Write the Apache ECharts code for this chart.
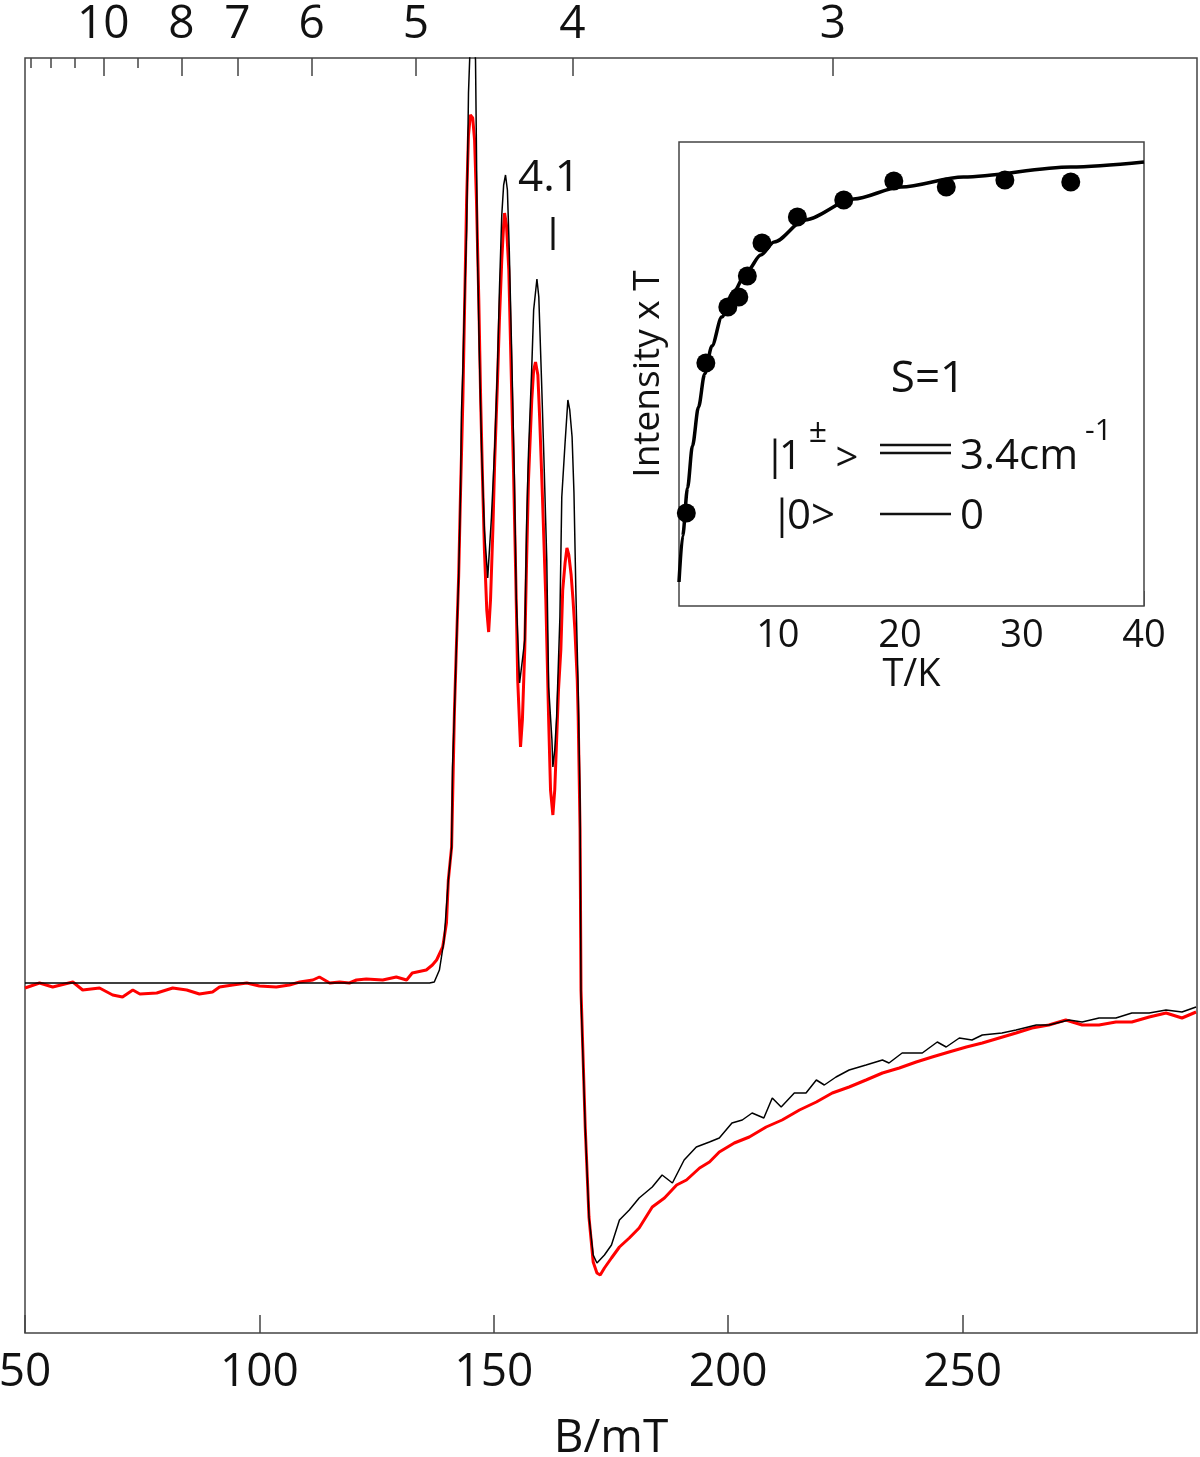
<!DOCTYPE html>
<html><head><meta charset="utf-8">
<script src="https://cdn.jsdelivr.net/npm/echarts@6/dist/echarts.min.js"></script>
<style>html,body{margin:0;padding:0;background:#fff}#c{width:1200px;height:1457px}</style>
</head><body><div id="c"></div>
<script>
// ---- data (B in mT, intensity in arbitrary units) ----
const simSpectrum = [
[50.0,0.1],[136.3,0.1],[137.3,0.2],[138.4,1.4],[139.4,4.4],[140.3,10.4],[141.0,13.7],[141.2,21.7],[141.6,27.2],[142.0,33.4],
[142.5,40.7],[142.9,49.1],[143.1,57.2],[143.4,61.4],[143.6,65.4],[144.2,75.4],[144.4,82.1],[144.6,89.1],[145.0,94.4],[145.7,95.4],
[146.1,92.4],[146.3,83.4],[146.5,73.4],[146.9,63.4],[147.4,53.4],[148.0,45.4],[148.7,40.6],[149.5,46.7],[150.2,53.7],[150.8,61.9],
[151.2,69.4],[151.7,76.9],[152.1,79.9],[152.5,80.9],[152.9,79.4],[153.3,73.4],[153.8,63.4],[154.4,50.4],[154.8,38.4],[155.5,30.1],
[156.1,32.4],[156.6,34.4],[157.0,46.1],[157.4,53.1],[158.1,61.7],[158.5,67.4],[159.2,70.5],[159.6,68.7],[160.2,60.1],[160.7,52.4],
[161.3,42.4],[161.7,29.7],[162.4,24.4],[162.6,21.7],[163.0,23.4],[163.4,26.7],[164.1,36.7],[164.5,48.7],[165.2,54.1],[165.8,58.4],
[166.2,57.4],[166.7,54.7],[167.1,49.1],[167.5,39.4],[168.0,29.4],[168.4,18.4],[168.6,-1.3],[169.5,-14.3],[170.3,-23.3],[171.2,-27.1],
[172.0,-27.9],[173.6,-27.1],[175.1,-26.1],[176.8,-23.6],[178.9,-22.6],[181.0,-21.4],[183.8,-20.3],[185.9,-19.1],[188.1,-19.9],[190.6,-17.6],
[193.2,-16.3],[196.0,-15.8],[198.1,-15.4],[200.8,-13.9],[203.0,-13.6],[205.1,-12.9],[207.6,-13.4],[209.4,-11.4],[211.3,-12.3],[214.1,-10.9],
[216.6,-10.9],[218.8,-9.6],[220.5,-10.1],[223.0,-9.3],[225.8,-8.6],[229.4,-8.1],[232.9,-7.6],[234.3,-7.9],[237.1,-6.9],[241.4,-6.9],
[244.6,-5.8],[246.5,-6.3],[249.3,-5.4],[252.0,-5.6],[254.2,-5.1],[258.4,-4.9],[261.4,-4.6],[265.7,-4.1],[268.4,-4.1],[272.7,-3.6],
[275.5,-3.8],[279.1,-3.4],[282.7,-3.4],[286.1,-2.9],[289.8,-2.9],[293.4,-2.6],[296.8,-2.8],[299.8,-2.3]
];
const expSpectrum = [
[50.0,-0.4],[53.1,0.1],[55.9,-0.3],[60.2,0.2],[62.3,-0.6],[65.9,-0.4],[68.7,-1.1],[70.8,-1.3],[73.0,-0.6],[74.5,-1.0],
[78.1,-0.9],[81.5,-0.4],[84.5,-0.6],[87.2,-1.0],[90.0,-0.8],[91.5,-0.3],[94.3,-0.1],[97.3,0.1],[100.0,-0.2],[103.6,-0.3],
[106.4,-0.1],[108.6,0.2],[111.4,0.4],[112.8,0.7],[115.0,0.1],[117.1,0.2],[119.2,0.1],[120.7,0.4],[122.8,0.5],[126.3,0.4],
[129.2,0.7],[131.4,0.4],[132.6,1.1],[135.6,1.4],[136.9,1.9],[137.8,2.4],[139.1,3.7],[139.9,6.1],[140.3,10.4],[141.0,13.7],
[141.6,27.2],[142.0,33.4],[142.5,40.7],[142.9,49.1],[143.4,58.4],[143.8,68.4],[144.2,78.4],[144.6,84.9],[145.0,86.9],[145.5,86.6],
[145.9,84.4],[146.3,78.4],[146.8,68.4],[147.2,58.4],[147.6,50.4],[148.0,43.4],[148.5,37.4],[148.9,35.2],[149.3,38.4],[149.8,45.4],
[150.2,52.4],[150.8,60.4],[151.2,66.4],[151.7,72.4],[152.1,75.9],[152.3,77.1],[152.7,75.9],[153.2,71.4],[153.6,63.4],[154.2,51.4],
[154.7,40.4],[155.1,30.4],[155.7,23.7],[156.1,26.4],[156.6,33.4],[157.0,42.4],[157.4,50.4],[158.1,58.4],[158.5,61.4],[158.9,62.2],
[159.4,60.9],[159.8,56.4],[160.4,48.4],[161.1,38.4],[161.7,26.4],[162.1,19.4],[162.6,16.9],[163.0,19.4],[163.4,24.4],[163.8,29.4],
[164.3,33.4],[164.7,39.4],[165.2,42.1],[165.6,43.6],[166.0,42.9],[166.5,40.9],[166.9,38.4],[167.3,35.4],[167.8,30.4],[168.0,26.7],
[168.4,15.4],[168.6,-0.6],[169.5,-14.3],[170.3,-23.3],[171.2,-27.8],[172.0,-28.9],[172.7,-29.1],[173.6,-28.4],[175.1,-27.4],[176.8,-26.3],
[178.9,-25.4],[181.0,-24.4],[183.8,-22.3],[186.4,-21.4],[189.0,-20.1],[191.1,-19.6],[193.9,-18.4],[196.0,-17.8],[198.1,-16.8],[201.3,-15.9],
[204.5,-15.3],[208.1,-14.3],[211.5,-13.6],[215.2,-12.6],[218.8,-11.8],[222.2,-10.9],[225.8,-10.3],[229.4,-9.6],[232.9,-8.9],[236.5,-8.4],
[240.1,-7.8],[243.5,-7.3],[247.1,-6.8],[250.8,-6.3],[254.2,-5.9],[257.8,-5.4],[261.4,-4.9],[264.8,-4.4],[268.4,-4.1],[272.0,-3.6],
[275.5,-4.1],[279.1,-4.1],[282.7,-3.8],[286.1,-3.8],[289.8,-3.3],[293.4,-2.9],[296.8,-3.4],[299.8,-2.8]
];
// inset: T (K) vs Intensity x T (arb. units)
const insetPoints = [
[2.5,9.3],[4.1,24.3],[5.9,29.9],[6.8,30.9],[7.5,33.0],[8.7,36.3],[11.6,38.9],[15.4,40.6],[19.5,42.5],[23.8,41.9],[28.6,42.6],[34.0,42.4]
];
const insetFit = [
[1.9,2.4],[2.2,7.0],[2.6,11.8],[3.0,16.0],[3.5,19.9],[4.0,23.2],[4.6,26.0],[5.4,28.9],[6.3,31.3],[7.5,33.5],
[8.6,35.1],[9.7,36.4],[12.2,38.6],[16.2,40.7],[20.1,41.9],[25.2,42.9],[34.0,43.9],[40.0,44.4]
];
// top axis: g values (B·g = constant for the microwave frequency)
const gConst = 667;
const gMajor = [10, 8, 7, 6, 5, 4, 3];
const gMinor = [13, 12, 11, 9];
const insetMajor = [10, 20, 30, 40];
const insetMinor = [2.5, 5, 7.5, 12.5, 15, 17.5, 22.5, 25, 27.5, 32.5, 35, 37.5];
const insetTop = [10, 20, 30];

// ---- chart ----
const FF = '"Open Sans","Noto Sans",sans-serif';
const TC = '#111';
const AX = '#444';
const chart = echarts.init(document.getElementById('c'), null, {renderer: 'canvas'});
const txt = (text, x, y, size, align) => ({
  type: 'text', z: 50,
  style: {text, x, y, fontSize: size, fontFamily: FF, fill: TC,
          align: align || 'left', verticalAlign: 'middle', textAlign: align || 'left', textVerticalAlign: 'middle'}
});
const ln = (x1, y1, x2, y2, w) => ({type: 'line', z: 50, shape: {x1, y1, x2, y2}, style: {stroke: TC, lineWidth: w}});
const noLine = {show: false, onZero: false};

chart.setOption({
  animation: false,
  backgroundColor: '#fff',
  grid: [
    {left: 25, top: 58, width: 1172, height: 1275, show: true, borderColor: AX, borderWidth: 1.5,
     backgroundColor: 'transparent', containLabel: false, outerBoundsMode: 'none'},
    {left: 679, top: 142, width: 465, height: 464, show: true, borderColor: AX, borderWidth: 1.5,
     backgroundColor: '#fff', z: 5, containLabel: false, outerBoundsMode: 'none'}
  ],
  xAxis: [
    {gridIndex: 0, type: 'value', min: 50, max: 300, interval: 50, position: 'bottom',
     axisLine: noLine, splitLine: {show: false},
     axisTick: {inside: true, length: 18, lineStyle: {color: AX, width: 1.5}},
     axisLabel: {fontSize: 46, fontFamily: FF, color: TC, margin: 17, showMaxLabel: false},
     name: 'B/mT', nameLocation: 'middle', nameGap: 83,
     nameTextStyle: {fontSize: 46, fontFamily: FF, color: TC}},
    {gridIndex: 0, type: 'value', min: 50, max: 300, position: 'top',
     axisLine: noLine, splitLine: {show: false},
     axisTick: {inside: true, length: 18, lineStyle: {color: AX, width: 1.5}, customValues: gMajor.map(g => gConst / g)},
     axisLabel: {fontSize: 46, fontFamily: FF, color: TC, margin: 10, customValues: gMajor.map(g => gConst / g),
                 formatter: v => String(Math.round(gConst / v))}},
    {gridIndex: 0, type: 'value', min: 50, max: 300, position: 'top',
     axisLine: noLine, splitLine: {show: false}, axisLabel: {show: false},
     axisTick: {inside: true, length: 10, lineStyle: {color: AX, width: 1.5}, customValues: gMinor.map(g => gConst / g)}},
    {gridIndex: 1, type: 'value', min: 1.9, max: 40, position: 'bottom',
     axisLine: noLine, splitLine: {show: false},
     axisTick: {inside: true, length: 15, lineStyle: {color: AX, width: 1.5}, customValues: insetMajor},
     axisLabel: {fontSize: 38, fontFamily: FF, color: TC, margin: 11, customValues: insetMajor},
     name: 'T/K', nameLocation: 'middle', nameGap: 50,
     nameTextStyle: {fontSize: 38, fontFamily: FF, color: TC}},
    {gridIndex: 1, type: 'value', min: 1.9, max: 40, position: 'bottom',
     axisLine: noLine, splitLine: {show: false}, axisLabel: {show: false},
     axisTick: {inside: true, length: 8, lineStyle: {color: AX, width: 1.5}, customValues: insetMinor}},
    {gridIndex: 1, type: 'value', min: 1.9, max: 40, position: 'top',
     axisLine: noLine, splitLine: {show: false}, axisLabel: {show: false},
     axisTick: {inside: true, length: 12, lineStyle: {color: AX, width: 1.5}, customValues: insetTop}}
  ],
  yAxis: [
    {gridIndex: 0, type: 'value', min: -34.9, max: 92.6,
     axisLine: noLine, axisTick: {show: false}, axisLabel: {show: false}, splitLine: {show: false}},
    {gridIndex: 1, type: 'value', min: 0, max: 46.4,
     axisLine: noLine, axisTick: {show: false}, axisLabel: {show: false}, splitLine: {show: false},
     name: 'Intensity x T', nameLocation: 'middle', nameGap: 12, nameRotate: 90,
     nameTextStyle: {fontSize: 37, fontFamily: FF, color: TC}}
  ],
  series: [
    {type: 'line', xAxisIndex: 0, yAxisIndex: 0, data: expSpectrum, showSymbol: false, z: 2,
     lineStyle: {color: '#ff0000', width: 3}},
    {type: 'line', xAxisIndex: 0, yAxisIndex: 0, data: simSpectrum, showSymbol: false, z: 3,
     lineStyle: {color: '#000', width: 1.5}},
    {type: 'line', xAxisIndex: 3, yAxisIndex: 1, data: insetFit, showSymbol: false, smooth: 0.3, smoothMonotone: 'x', z: 10,
     lineStyle: {color: '#000', width: 3.5}},
    {type: 'scatter', xAxisIndex: 3, yAxisIndex: 1, data: insetPoints, symbolSize: 19, z: 11,
     itemStyle: {color: '#000', opacity: 1}}
  ],
  graphic: [
    txt('4.1', 549, 178, 44, 'center'),
    ln(553, 217, 553, 250, 3),
    txt('S=1', 928, 379, 44, 'center'),
    txt('|', 775, 458, 40, 'center'),
    txt('1', 779, 458, 40, 'left'),
    txt('±', 818, 433, 32, 'center'),
    txt('>', 847, 460, 40, 'center'),
    ln(880, 445, 951, 445, 2.5),
    ln(880, 453, 951, 453, 2.5),
    txt('3.4cm', 960, 457, 42, 'left'),
    txt('-1', 1085, 431, 30, 'left'),
    txt('|', 782, 517, 40, 'center'),
    txt('0>', 787, 517, 42, 'left'),
    ln(880, 514, 951, 514, 2.5),
    txt('0', 960, 517, 42, 'left')
  ]
});
</script></body></html>
